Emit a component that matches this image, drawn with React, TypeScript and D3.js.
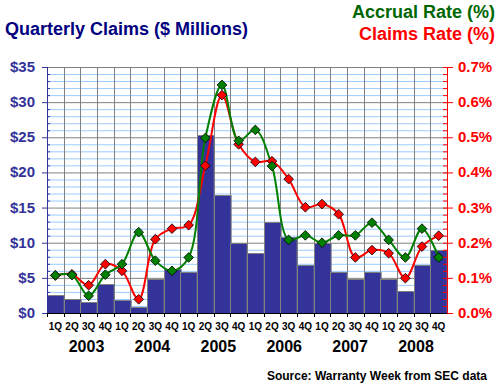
import { useRef, useEffect } from 'react';
import * as d3 from 'd3';

const years = ['2003', '2004', '2005', '2006', '2007', '2008'];
const quarterNames = ['1Q', '2Q', '3Q', '4Q'];
const quarters = years.flatMap((y) => quarterNames.map((q) => `${q} ${y}`));

// Quarterly claims, $ millions
const claims = [
  2.5, 1.95, 1.5, 4.1, 1.9, 0.85, 4.9, 6.3, 5.9, 25.3, 16.8, 10.0, 8.5, 13.0,
  10.85, 6.9, 10.0, 5.9, 4.9, 5.9, 4.9, 3.2, 6.9, 8.9,
];
// Accrual rate, %
const accrualRate = [
  0.107, 0.108, 0.049, 0.109, 0.139, 0.23, 0.149, 0.12, 0.158, 0.498, 0.649,
  0.49, 0.521, 0.418, 0.208, 0.221, 0.2, 0.221, 0.221, 0.257, 0.208, 0.158,
  0.24, 0.158,
];
// Claims rate, %
const claimsRate = [
  0.107, 0.11, 0.079, 0.139, 0.12, 0.039, 0.21, 0.24, 0.25, 0.419, 0.62, 0.48,
  0.43, 0.432, 0.381, 0.301, 0.31, 0.281, 0.158, 0.179, 0.17, 0.099, 0.189,
  0.22,
];

const leftTicks = [0, 5, 10, 15, 20, 25, 30, 35];
const rightTicks = [0, 0.1, 0.2, 0.3, 0.4, 0.5, 0.6, 0.7];

const W = 500;
const H = 387;
const FONT = 'Liberation Sans, Arial, sans-serif';

export default function App() {
  const svgRef = useRef<SVGSVGElement>(null);

  useEffect(() => {
    const svg = d3.select(svgRef.current);
    svg.selectAll('*').remove();

    const left = 47;
    const right = 447;
    const top = 67;
    const bottom = 313;

    const x = d3.scaleBand<string>().domain(quarters).range([left, right]).padding(0);
    const yL = d3.scaleLinear().domain([0, 35]).range([bottom, top]);
    const yR = d3.scaleLinear().domain([0, 0.7]).range([bottom, top]);
    const cx = (i: number) => (x(quarters[i]) as number) + x.bandwidth() / 2;

    // minor horizontal gridlines ($1)
    const minor = d3.range(1, 35).filter((v) => v % 5 !== 0);
    svg
      .append('g')
      .selectAll('line')
      .data(minor)
      .join('line')
      .attr('x1', left)
      .attr('x2', right)
      .attr('y1', (d) => yL(d) + 0.5)
      .attr('y2', (d) => yL(d) + 0.5)
      .attr('stroke', '#99ccff')
      .attr('stroke-width', 1);

    // major horizontal gridlines
    svg
      .append('g')
      .selectAll('line')
      .data(leftTicks.filter((d) => d > 0))
      .join('line')
      .attr('x1', left)
      .attr('x2', right)
      .attr('y1', (d) => yL(d) + 0.5)
      .attr('y2', (d) => yL(d) + 0.5)
      .attr('stroke', '#808080');

    // vertical gridlines
    svg
      .append('g')
      .selectAll('line')
      .data(quarters.slice(1))
      .join('line')
      .attr('x1', (d) => Math.round(x(d) as number) + 0.5)
      .attr('x2', (d) => Math.round(x(d) as number) + 0.5)
      .attr('y1', top)
      .attr('y2', bottom)
      .attr('stroke', '#808080');

    // bars
    svg
      .append('g')
      .selectAll('rect')
      .data(claims)
      .join('rect')
      .attr('x', (_, i) => Math.round(x(quarters[i]) as number) + 0.5)
      .attr('width', x.bandwidth())
      .attr('y', (d) => Math.round(yL(d)) + 0.5)
      .attr('height', (d) => bottom - Math.round(yL(d)))
      .attr('fill', '#333399')
      .attr('stroke', '#808080')
      .attr('stroke-width', 1);

    // lines
    const line = d3
      .line<number>()
      .x((_, i) => cx(i))
      .y((d) => yR(d))
      .curve(d3.curveCatmullRom.alpha(0.5));

    const series = [
      { data: claimsRate, color: '#ff0000' },
      { data: accrualRate, color: '#008000' },
    ];
    series.forEach((s) => {
      svg
        .append('path')
        .datum(s.data)
        .attr('d', line)
        .attr('fill', 'none')
        .attr('stroke', s.color)
        .attr('stroke-width', 2);
    });
    const diamond = d3.symbol(d3.symbolDiamond2, 60);
    series.forEach((s) => {
      svg
        .append('g')
        .selectAll('path')
        .data(s.data)
        .join('path')
        .attr('d', diamond)
        .attr('transform', (d, i) => `translate(${cx(i)},${yR(d)})`)
        .attr('fill', s.color)
        .attr('stroke', '#000')
        .attr('stroke-width', 0.8);
    });

    // left axis
    svg
      .append('line')
      .attr('x1', left + 0.5)
      .attr('x2', left + 0.5)
      .attr('y1', top)
      .attr('y2', bottom)
      .attr('stroke', '#333399')
      .attr('stroke-width', 1);
    svg
      .append('g')
      .selectAll('line')
      .data(minor)
      .join('line')
      .attr('x1', left)
      .attr('x2', left + 3)
      .attr('y1', (d) => yL(d) + 0.5)
      .attr('y2', (d) => yL(d) + 0.5)
      .attr('stroke', '#333399');
    svg
      .append('g')
      .selectAll('line')
      .data(leftTicks)
      .join('line')
      .attr('x1', left - 5)
      .attr('x2', left)
      .attr('y1', (d) => yL(d) + 0.5)
      .attr('y2', (d) => yL(d) + 0.5)
      .attr('stroke', '#333399');
    svg
      .append('g')
      .selectAll('text')
      .data(leftTicks)
      .join('text')
      .attr('x', left - 12)
      .attr('y', (d) => yL(d) + 5)
      .attr('text-anchor', 'end')
      .attr('font-family', FONT)
      .attr('font-weight', 'bold')
      .attr('font-size', 15)
      .attr('fill', '#333399')
      .text((d) => `$${d}`);

    // right axis
    const rMinor = d3.range(1, 35).map((k) => k * 0.02).filter((_, k) => (k + 1) % 5 !== 0);
    svg
      .append('line')
      .attr('x1', right + 0.5)
      .attr('x2', right + 0.5)
      .attr('y1', top)
      .attr('y2', bottom + 1)
      .attr('stroke', '#ff0000');
    svg
      .append('g')
      .selectAll('line')
      .data(rMinor)
      .join('line')
      .attr('x1', right - 4)
      .attr('x2', right)
      .attr('y1', (d) => yR(d) + 0.5)
      .attr('y2', (d) => yR(d) + 0.5)
      .attr('stroke', '#ff0000');
    svg
      .append('g')
      .selectAll('line')
      .data(rightTicks)
      .join('line')
      .attr('x1', right - 4)
      .attr('x2', right + 6)
      .attr('y1', (d) => yR(d) + 0.5)
      .attr('y2', (d) => yR(d) + 0.5)
      .attr('stroke', '#ff0000');
    svg
      .append('g')
      .selectAll('text')
      .data(rightTicks)
      .join('text')
      .attr('x', right + 11)
      .attr('y', (d) => yR(d) + 5)
      .attr('font-family', FONT)
      .attr('font-weight', 'bold')
      .attr('font-size', 15)
      .attr('fill', '#ff0000')
      .text((d) => `${d.toFixed(1)}%`);

    // bottom axis
    svg
      .append('line')
      .attr('x1', left)
      .attr('x2', right)
      .attr('y1', bottom + 0.5)
      .attr('y2', bottom + 0.5)
      .attr('stroke', '#000');
    svg
      .append('g')
      .selectAll('line')
      .data(quarters)
      .join('line')
      .attr('x1', (d) => Math.round(x(d) as number) + 0.5)
      .attr('x2', (d) => Math.round(x(d) as number) + 0.5)
      .attr('y1', bottom)
      .attr('y2', bottom + 4)
      .attr('stroke', '#000');
    svg
      .append('g')
      .selectAll('text')
      .data(quarters)
      .join('text')
      .attr('x', (_, i) => cx(i))
      .attr('y', bottom + 17)
      .attr('text-anchor', 'middle')
      .attr('font-family', FONT)
      .attr('font-weight', 'bold')
      .attr('font-size', 10)
      .attr('fill', '#000')
      .text((d) => d.split(' ')[0]);

    const yearX = d3.scaleLinear().domain([0, years.length - 1]).range([86.5, 416]);
    svg
      .append('g')
      .selectAll('text')
      .data(years)
      .join('text')
      .attr('x', (_, i) => yearX(i))
      .attr('y', bottom + 39)
      .attr('text-anchor', 'middle')
      .attr('font-family', FONT)
      .attr('font-weight', 'bold')
      .attr('font-size', 16)
      .attr('fill', '#000')
      .text((d) => d);

    // titles
    svg
      .append('text')
      .attr('x', 5)
      .attr('y', 35)
      .attr('font-family', FONT)
      .attr('font-weight', 'bold')
      .attr('font-size', 18)
      .attr('fill', '#000080')
      .text('Quarterly Claims ($ Millions)');
    svg
      .append('text')
      .attr('x', 495)
      .attr('y', 18)
      .attr('text-anchor', 'end')
      .attr('font-family', FONT)
      .attr('font-weight', 'bold')
      .attr('font-size', 18)
      .attr('fill', '#006600')
      .text('Accrual Rate (%)');
    svg
      .append('text')
      .attr('x', 495)
      .attr('y', 40)
      .attr('text-anchor', 'end')
      .attr('font-family', FONT)
      .attr('font-weight', 'bold')
      .attr('font-size', 18)
      .attr('fill', '#ff0000')
      .text('Claims Rate (%)');
    svg
      .append('text')
      .attr('x', 487)
      .attr('y', 380)
      .attr('text-anchor', 'end')
      .attr('font-family', FONT)
      .attr('font-weight', 'bold')
      .attr('font-size', 12)
      .attr('fill', '#000')
      .text('Source: Warranty Week from SEC data');
  }, []);

  return (
    <svg
      ref={svgRef}
      width={W}
      height={H}
      style={{ position: 'absolute', left: 0, top: 0, background: '#fff' }}
    />
  );
}
